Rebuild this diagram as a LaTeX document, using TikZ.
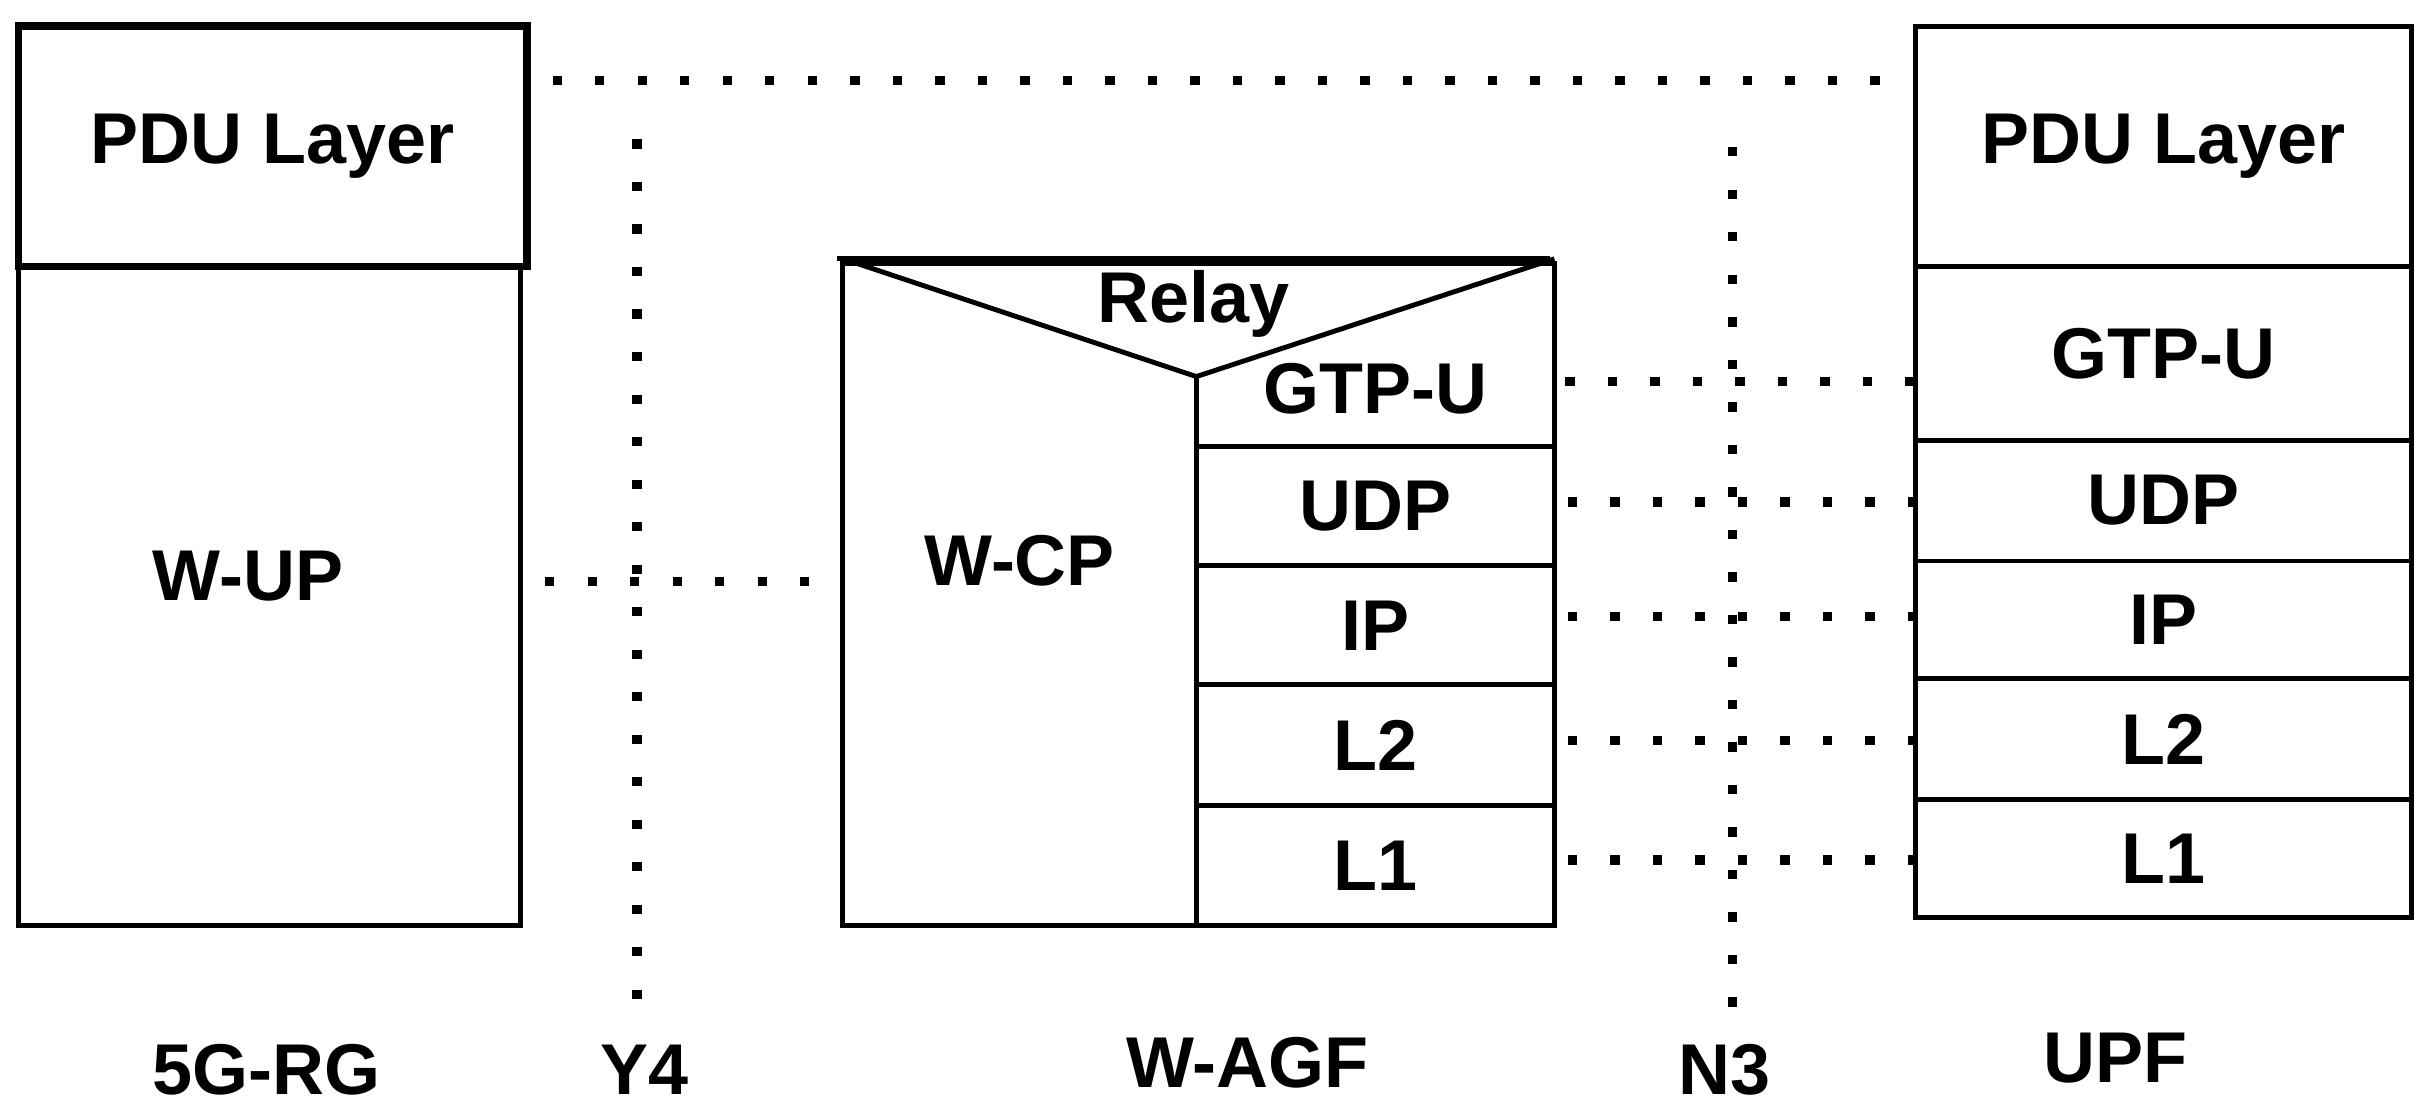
\documentclass[tikz,border=0pt]{standalone}
\usepackage{fontspec}
\setmainfont{Liberation Sans}
\begin{document}
\begin{tikzpicture}[x=0.01cm,y=-0.01cm,
  box/.style={draw,line width=0.9pt,rectangle,inner sep=0pt,font=\fontsize{13.2}{15}\selectfont\bfseries},
  lbl/.style={font=\fontsize{13.2}{15}\selectfont\bfseries,inner sep=0pt},
  dot/.style={line width=1.7pt,dash pattern=on 1.7pt off 6.1pt}]
\useasboundingbox (0,0) rectangle (1568,716);
% 5G-RG
\node[box,line width=1.4pt,minimum width=3.28cm,minimum height=1.55cm] (rgpdu) at (176,94.5) {PDU Layer};
\node[box,minimum width=3.24cm,minimum height=4.25cm] (wup) at (174,384.5) {};
\node[lbl] (wupl) at (160,372) {W-UP};
\node[lbl] (rg) at (172,690) {5G-RG};
% W-AGF
\node[box,minimum width=4.59cm,minimum height=4.27cm] (agf) at (773.5,383.5) {};
\coordinate (tl) at (544,167);
\coordinate (tr) at (1003,167);
\coordinate (apex) at (772,243);
\draw[line width=0.9pt] (540,167) -- (1000,167);
\draw[line width=0.9pt] (tl) -- (apex) -- (tr);
\draw[line width=0.9pt] (apex) -- (772,597);
\node[lbl] (relay) at (770,196) {Relay};
\node[lbl] (wcp) at (658,362) {W-CP};
\node[lbl] (ag) at (887.5,251) {GTP-U};
\node[box,minimum width=2.31cm,minimum height=0.77cm] (au) at (887.5,326.5) {UDP};
\node[box,minimum width=2.31cm,minimum height=0.77cm] (ai) at (887.5,403.5) {IP};
\node[box,minimum width=2.31cm,minimum height=0.78cm] (a2) at (887.5,481) {L2};
\node[box,minimum width=2.31cm,minimum height=0.77cm] (a1) at (887.5,558.5) {L1};
\draw[line width=0.9pt] (772,288) -- (1003,288);
\node[lbl] (agfl) at (805,686) {W-AGF};
% UPF
\node[box,minimum width=3.2cm,minimum height=1.55cm] (updu) at (1396,94.5) {PDU Layer};
\node[box,minimum width=3.2cm,minimum height=1.12cm] (ug) at (1396,228) {GTP-U};
\node[box,minimum width=3.2cm,minimum height=0.78cm] (uu) at (1396,323) {UDP};
\node[box,minimum width=3.2cm,minimum height=0.76cm] (ui) at (1396,400) {IP};
\node[box,minimum width=3.2cm,minimum height=0.78cm] (u2) at (1396,477) {L2};
\node[box,minimum width=3.2cm,minimum height=0.76cm] (u1) at (1396,554) {L1};
\node[lbl] (upf) at (1365,683) {UPF};
% reference points
\node[lbl] (y4) at (416,690) {Y4};
\node[lbl] (n3) at (1113,690) {N3};
\coordinate (y4t) at (411,90);
\coordinate (y4b) at (411,662);
\coordinate (n3t) at (1118,95);
\coordinate (n3b) at (1118,665);
\draw[dot] (y4t) -- (y4b);
\draw[dot] (n3t) -- (n3b);
\draw[dot,shorten <=4pt] (rgpdu.east|-0,52) -- (updu.west|-0,52);
\draw[dot,shorten <=4pt] (wup.east|-0,375) -- (agf.west|-0,375);
\draw[dot,shorten <=2pt] (1003,246) -- (ug.west|-0,246);
\draw[dot,shorten <=2pt] (au.east|-0,324) -- (uu.west|-0,324);
\draw[dot,shorten <=2pt] (ai.east|-0,398) -- (ui.west|-0,398);
\draw[dot,shorten <=2pt] (a2.east|-0,478) -- (u2.west|-0,478);
\draw[dot,shorten <=2pt] (a1.east|-0,555) -- (u1.west|-0,555);
\end{tikzpicture}
\end{document}
